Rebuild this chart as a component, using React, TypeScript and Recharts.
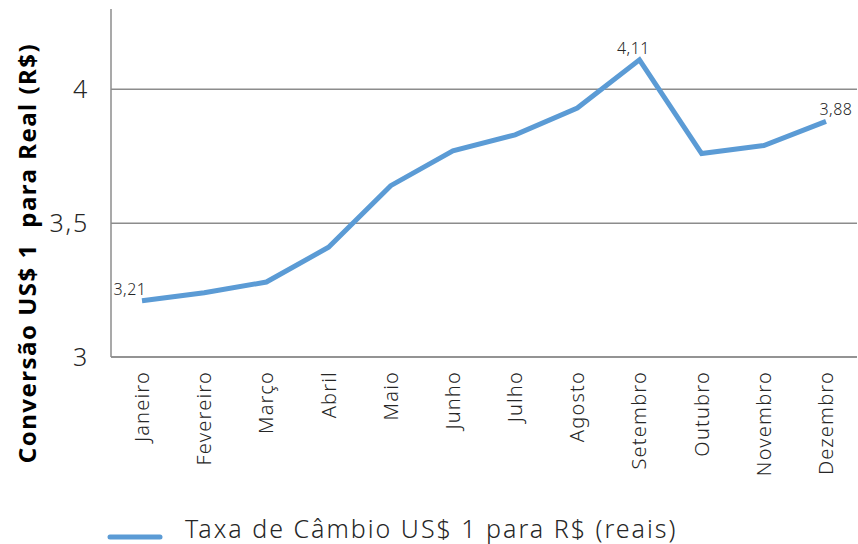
import React from 'react';
import { LineChart, Line, XAxis, YAxis, CartesianGrid, Legend, LabelList } from 'recharts';

const months = ['Janeiro', 'Fevereiro', 'Março', 'Abril', 'Maio', 'Junho', 'Julho', 'Agosto', 'Setembro', 'Outubro', 'Novembro', 'Dezembro'];
const rates = [3.21, 3.24, 3.28, 3.41, 3.64, 3.77, 3.83, 3.93, 4.11, 3.76, 3.79, 3.88];
const yTicks = [3, 3.5, 4];
const labeledIdx = [0, 8, 11];
const seriesName = 'Taxa de Câmbio US$ 1 para R$ (reais)';
const yTitle = 'Conversão US$ 1\u00a0 para Real (R$)';

const data = months.map((m, i) => ({ month: m, rate: rates[i] }));

const FONT = '"Noto Sans", sans-serif';
const BLUE = '#5B9BD5';
const GRID = '#8c8c8c';

const fmt = (v: number) => String(v).replace('.', ',');

const XTick = (props: any) => {
  const { x, y, payload } = props;
  return (
    <text x={x} y={y} transform={`rotate(-90, ${x}, ${y})`} dx={-6} dy={7} textAnchor="end" fontSize={20} letterSpacing={1.2} fill="#262626" fontFamily={FONT} fontWeight={300}>
      {payload.value}
    </text>
  );
};

const YTick = (props: any) => {
  const { x, y, payload } = props;
  return (
    <text x={x} y={y} dx={-14} dy={9} textAnchor="end" fontSize={25} letterSpacing={1.8} fill="#262626" fontFamily={FONT} fontWeight={300}>
      {fmt(payload.value)}
    </text>
  );
};

const YTitle = (props: any) => {
  const { viewBox } = props;
  const cx = viewBox.x + 27;
  const cy = viewBox.y + viewBox.height / 2 + 70;
  return (
    <text x={cx} y={cy} transform={`rotate(-90, ${cx}, ${cy})`} dy={9} textAnchor="middle" fontSize={24} letterSpacing={1.5} fontWeight={700} fill="#000" fontFamily={FONT}>
      {yTitle}
    </text>
  );
};

const DataLabel = (props: any) => {
  const { x, y, index, value } = props;
  if (!labeledIdx.includes(index)) return null;
  let dx = 0;
  if (index === 0) dx = -12;
  if (index === 8) dx = -6;
  if (index === 11) dx = 10;
  return (
    <text x={x + dx} y={y - 6} textAnchor="middle" fontSize={16} letterSpacing={0.5} fill="#262626" fontFamily={FONT} fontWeight={300}>
      {fmt(value)}
    </text>
  );
};

const LegendContent = () => (
  <svg width={858} height={44} style={{ position: 'absolute', left: 0, top: 0, display: 'block' }}>
    <line x1={110} y1={37} x2={160} y2={37} stroke={BLUE} strokeWidth={5} strokeLinecap="round" />
    <text x={185} y={38} fontSize={25} letterSpacing={2} fill="#262626" fontFamily={FONT} fontWeight={300}>
      {seriesName}
    </text>
  </svg>
);

export default function App() {
  return (
    <div style={{ position: 'absolute', left: 0, top: 0 }}>
      <LineChart width={858} height={544} data={data} margin={{ top: 9, right: 1, left: 0, bottom: 0 }}>
        <CartesianGrid horizontal vertical={false} horizontalValues={yTicks} stroke={GRID} strokeWidth={1.5} />
        <XAxis dataKey="month" interval={0} height={143} padding={{ left: 31, right: 31 }} tick={<XTick />} tickLine={false} axisLine={{ stroke: GRID, strokeWidth: 1.5 }} />
        <YAxis
          width={111}
          domain={[3, 4.3]}
          ticks={yTicks}
          tick={<YTick />}
          tickLine={false}
          axisLine={{ stroke: GRID, strokeWidth: 1.5 }}
          label={<YTitle />}
        />
        <Legend verticalAlign="bottom" height={44} content={<LegendContent />} wrapperStyle={{ left: 0, bottom: 0, width: 858, height: 44 }} />
        <Line type="linear" dataKey="rate" name={seriesName} stroke={BLUE} strokeWidth={5} dot={false} isAnimationActive={false}>
          <LabelList dataKey="rate" content={<DataLabel />} />
        </Line>
      </LineChart>
    </div>
  );
}
